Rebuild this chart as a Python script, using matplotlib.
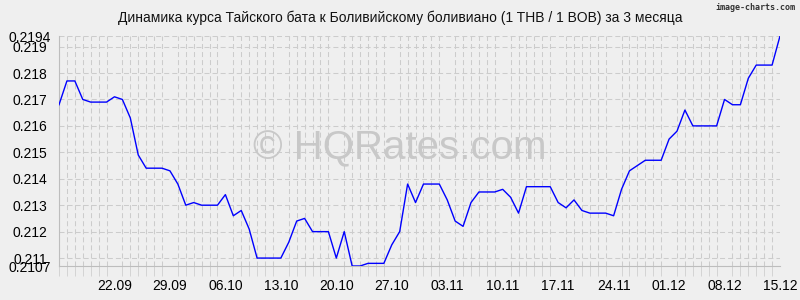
import matplotlib
matplotlib.use("Agg")
import matplotlib.pyplot as plt
import matplotlib.dates as mdates
import numpy as np
import pandas as pd

plt.rcParams['font.family'] = ['Liberation Sans', 'DejaVu Sans']
plt.rcParams['lines.scale_dashes'] = False

title = "Динамика курса Тайского бата к Боливийскому боливиано (1 THB / 1 BOB) за 3 месяца"
start_date = "2025-09-15"
end_date = "2025-12-15"
values = [
    0.2168, 0.2177, 0.2177, 0.2170, 0.2169, 0.2169, 0.2169,
    0.2171, 0.2170, 0.2163, 0.2149, 0.2144, 0.2144, 0.2144,
    0.2143, 0.2138, 0.2130, 0.2131, 0.2130, 0.2130, 0.2130,
    0.2134, 0.2126, 0.2128, 0.2121, 0.2110, 0.2110, 0.2110,
    0.2110, 0.2116, 0.2124, 0.2125, 0.2120, 0.2120, 0.2120,
    0.2110, 0.2120, 0.2107, 0.2107, 0.2108, 0.2108, 0.2108,
    0.2115, 0.2120, 0.2138, 0.2131, 0.2138, 0.2138, 0.2138,
    0.2132, 0.2124, 0.2122, 0.2131, 0.2135, 0.2135, 0.2135,
    0.2136, 0.2133, 0.2127, 0.2137, 0.2137, 0.2137, 0.2137,
    0.2131, 0.2129, 0.2132, 0.2128, 0.2127, 0.2127, 0.2127,
    0.2126, 0.2136, 0.2143, 0.2145, 0.2147, 0.2147, 0.2147,
    0.2155, 0.2158, 0.2166, 0.2160, 0.2160, 0.2160, 0.2160,
    0.2170, 0.2168, 0.2168, 0.2178, 0.2183, 0.2183, 0.2183,
    0.2194,
]
y_ticks = [0.2107, 0.211, 0.212, 0.213, 0.214, 0.215, 0.216, 0.217, 0.218, 0.219, 0.2194]
y_tick_labels = ["0.2107", "0.211", "0.212", "0.213", "0.214", "0.215", "0.216",
                 "0.217", "0.218", "0.219", "0.2194"]
x_tick_labels = ["22.09", "29.09", "06.10", "13.10", "20.10", "27.10", "03.11",
                 "10.11", "17.11", "24.11", "01.12", "08.12", "15.12"]

dates = pd.date_range(start_date, end_date, freq="D")
x_ticks = pd.to_datetime([f"2025-{l[3:5]}-{l[0:2]}" for l in x_tick_labels])

bg = "#efefef"
fig = plt.figure(figsize=(8, 3), dpi=100, facecolor=bg)
ax = fig.add_axes([59 / 800, 34 / 300, 721 / 800, 230 / 300])
ax.set_facecolor(bg)

ax.plot(dates, values, color="#0000ff", lw=1.0, zorder=3)

ax.set_xlim(dates[0], dates[-1])
ax.set_ylim(min(y_ticks), max(y_ticks))

ax.set_yticks(y_ticks)
ax.set_yticklabels(y_tick_labels)
for lbl in ax.get_yticklabels():
    lbl.set_horizontalalignment("center")
    lbl.set_verticalalignment("center_baseline")
ax.tick_params(axis="y", length=0, pad=21, labelsize=10, colors="black")

ax.set_xticks(x_ticks)
ax.set_xticklabels(x_tick_labels)
ax.xaxis.set_minor_locator(mdates.DayLocator())
ax.tick_params(axis="x", which="major", length=0, pad=9, labelsize=10)
ax.tick_params(axis="x", which="minor", length=7, color="#d4d4d4", width=0.7)

grid_kw = dict(color="#cccccc", lw=0.75, linestyle=(0, (3.6, 2.2)))
ax.grid(False)
ax.xaxis.grid(True, which="minor", **grid_kw)
ax.yaxis.grid(True, which="major", **grid_kw)
ax.set_axisbelow(True)

for s in ["top", "right"]:
    ax.spines[s].set_visible(False)
for s in ["left", "bottom"]:
    ax.spines[s].set_color("#bdbdbd")
    ax.spines[s].set_linewidth(0.8)

fig.text(0.5, 1 - 18 / 300, title, ha="center", va="center", fontsize=10, color="#111111")
fig.text(795 / 800, 1 - 8 / 300, "image-charts.com", ha="right", va="center",
         fontsize=6, fontweight="bold", color="#333333", family="DejaVu Sans Mono")
fig.text(0.5, 1 - 148 / 300, "© HQRates.com", ha="center", va="center",
         fontsize=29, color="#c8c8c8", zorder=1)

fig.savefig("out.png", dpi=100, facecolor=bg)
